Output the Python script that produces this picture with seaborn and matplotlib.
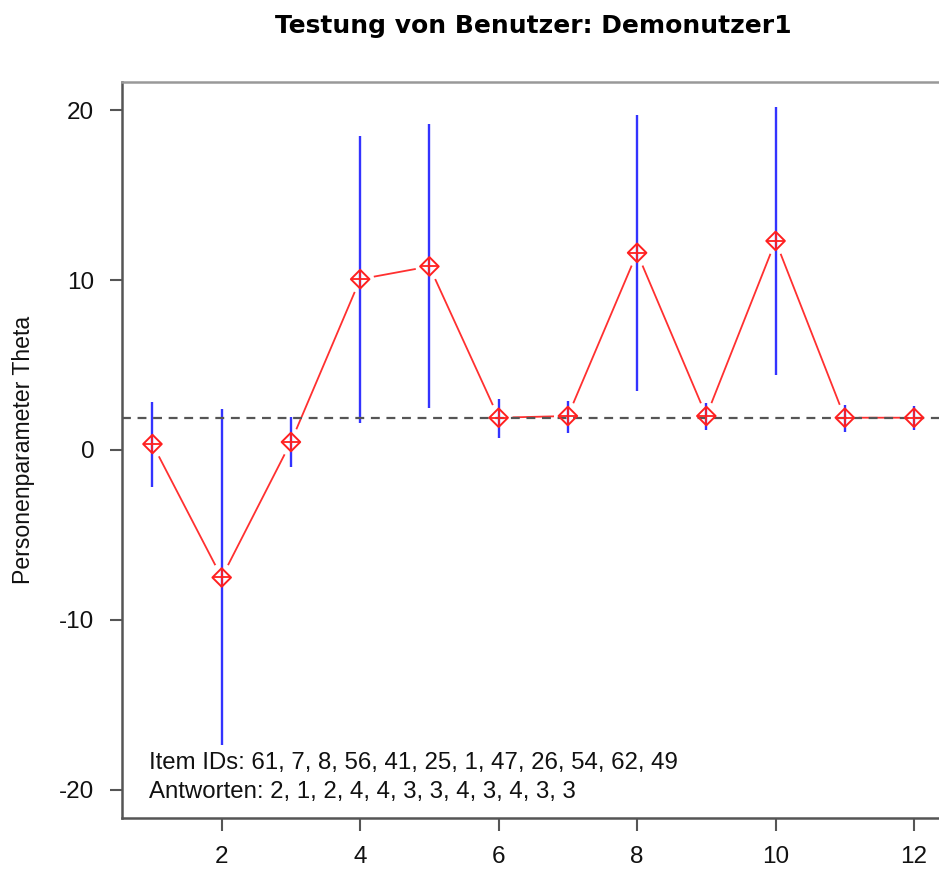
import matplotlib
matplotlib.use('Agg')
import matplotlib.pyplot as plt
import seaborn as sns
import pandas as pd

# ---- data ----
items = list(range(1, 13))
theta = [0.35, -7.5, 0.47, 10.05, 10.8, 1.9, 2.0, 11.6, 2.0, 12.3, 1.9, 1.9]
upper = [2.8, 2.4, 1.95, 18.5, 19.2, 3.0, 2.9, 19.7, 2.75, 20.2, 2.65, 2.6]
lower = [-2.2, -17.35, -1.0, 1.6, 2.45, 0.7, 1.0, 3.5, 1.2, 4.4, 1.05, 1.2]
ref_theta = 1.9
item_ids = [61, 7, 8, 56, 41, 25, 1, 47, 26, 54, 62, 49]
answers = [2, 1, 2, 4, 4, 3, 3, 4, 3, 4, 3, 3]
x_ticks = [2, 4, 6, 8, 10, 12]
y_ticks = [-20, -10, 0, 10, 20]
title = "Testung von Benutzer: Demonutzer1"
ylabel = "Personenparameter Theta"

df = pd.DataFrame({'item': items, 'theta': theta, 'lower': lower, 'upper': upper})

sns.set_style('white')
plt.rcParams['font.family'] = ['Liberation Sans', 'DejaVu Sans']
plt.rcParams['axes.unicode_minus'] = False
plt.rcParams['text.color'] = '#111111'

W, H = 939, 874
fig = plt.figure(figsize=(W / 100, H / 100), dpi=100)
ax = fig.add_axes([122 / W, 56 / H, 822.5 / W, 736 / H])

# connecting line
sns.lineplot(data=df, x='item', y='theta', color='#ff3030', lw=1.3, ax=ax, zorder=2)
# white mask so the line stops short of the points (R type="b")
sns.scatterplot(data=df, x='item', y='theta', marker='o', s=20 ** 2,
                color='white', edgecolor='none', ax=ax, zorder=3)
# error bars
ax.vlines(df['item'], df['lower'], df['upper'], color='#3333ff', lw=1.7, zorder=4)
# reference line
ax.axhline(ref_theta, color='#555555', ls=(0, (4, 3)), lw=1.6, zorder=4)
# diamond-plus markers
sns.scatterplot(data=df, x='item', y='theta', marker='D', s=90,
                facecolors='none', edgecolors='#ff2020', linewidths=1.4, ax=ax, zorder=5)
sns.scatterplot(data=df, x='item', y='theta', marker='+', s=180,
                color='#ff2020', linewidths=1.3, ax=ax, zorder=5)

ax.set_xlim(0.56, 12.44)
ax.set_ylim(-21.65, 21.65)
ax.set_xticks(x_ticks)
ax.set_yticks(y_ticks)
ax.set_xlabel('')
ax.set_ylabel(ylabel, fontsize=16.6, color='#111111')
ax.yaxis.set_label_coords(-0.106, 0.5)
ax.tick_params(bottom=True, left=True, direction='out', length=9, width=1.5,
               color='#555555', labelsize=17.5, labelcolor='#111111')
ax.tick_params(axis='x', pad=11)
ax.tick_params(axis='y', pad=11)

for side in ['left', 'bottom']:
    ax.spines[side].set_color('#555555')
    ax.spines[side].set_linewidth(1.8)
for side in ['top', 'right']:
    ax.spines[side].set_color('#999999')
    ax.spines[side].set_linewidth(1.8)

ax.set_title(title, fontsize=18, fontweight='bold', family=['DejaVu Sans'],
             color='black', pad=35)

ax.text(0.95, -18.76, 'Item IDs: ' + ', '.join(str(i) for i in item_ids),
        fontsize=17.3, ha='left', va='baseline', color='#111111')
ax.text(0.95, -20.47, 'Antworten: ' + ', '.join(str(a) for a in answers),
        fontsize=17.3, ha='left', va='baseline', color='#111111')

fig.savefig('out.png', dpi=100)
